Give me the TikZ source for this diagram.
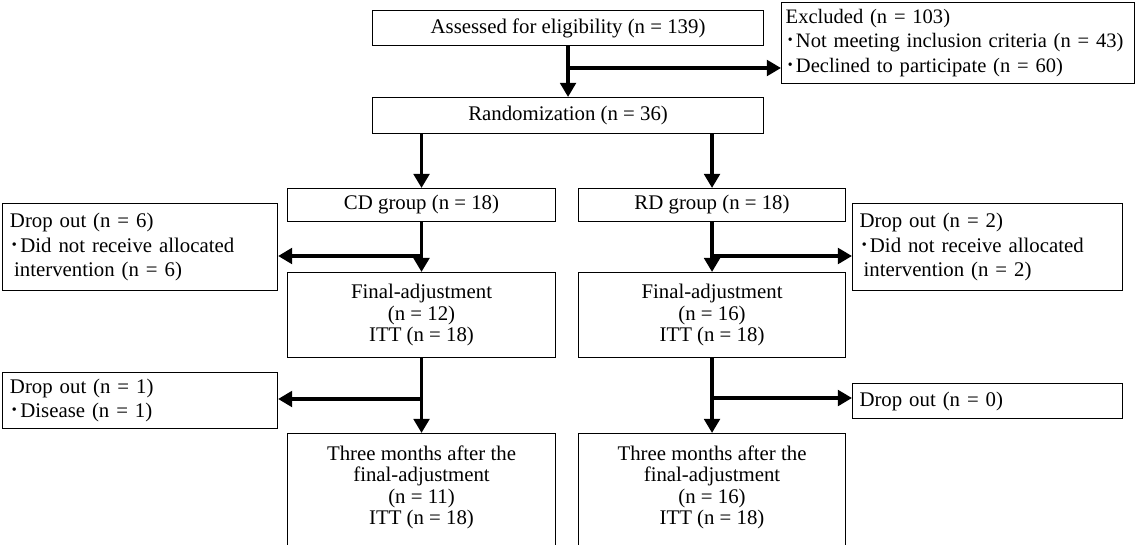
\documentclass[tikz,border=0pt]{standalone}
\usepackage{fontspec}
\setmainfont{Liberation Serif}
\newfontfamily\cjk{Noto Sans CJK JP}
\usetikzlibrary{arrows.meta}

\newcommand{\dotmark}{{\cjk ･}}

\begin{document}
\begin{tikzpicture}[
                x=0.025cm, y=-0.025cm,
                every node/.style={
                  draw,
                  line width=0.7pt,
                  inner sep=0pt,
                  anchor=north west,
                },
                box/.style={align=center, font=\fontsize{14.8}{15.4}\selectfont},
                note/.style={align=left, inner xsep=5pt, font=\fontsize{14.8}{17.4}\selectfont},
                >={Triangle[length=10pt,width=11pt]},
              ]
              \clip (0,0) rectangle (1137,545);
              % top part
              \node[box, minimum width=9.775cm, minimum height=0.875cm] at (372,10) (assess) {Assessed for eligibility (n = 139)} ;
              \node[note, minimum width=8.8cm, minimum height=2.025cm, text width=8.6cm, inner xsep=3pt,
                    font=\fontsize{14.6}{17.4}\selectfont] at (781,2) (excl)
                {Excluded (n = 103)\\\dotmark Not meeting inclusion criteria (n = 43)\\\dotmark Declined to participate (n = 60)} ;
              \node[box, minimum width=9.775cm, minimum height=0.9cm] at (372,97) (rand) {Randomization (n = 36)} ;
              % groups
              \node[box, minimum width=6.7cm, minimum height=0.825cm] at (287,188) (cd) {CD group (n = 18)} ;
              \node[box, minimum width=6.675cm, minimum height=0.825cm] at (578,188) (rd) {RD group (n = 18)} ;
              \node[note, minimum width=6.875cm, minimum height=2.175cm, text width=6.5cm] at (2,203) (dropcd)
                {Drop out (n = 6)\\\dotmark Did not receive allocated\\\hspace{0.2em}intervention (n = 6)} ;
              \node[note, minimum width=6.75cm, minimum height=2.175cm, text width=6.4cm] at (852,203) (droprd)
                {Drop out (n = 2)\\\dotmark Did not receive allocated\\\hspace{0.2em}intervention (n = 2)} ;
              \node[box, minimum width=6.7cm, minimum height=2.125cm] at (287,272) (fincd) {Final-adjustment\\(n = 12)\\ITT (n = 18)} ;
              \node[box, minimum width=6.675cm, minimum height=2.125cm] at (578,272) (finrd) {Final-adjustment\\(n = 16)\\ITT (n = 18)} ;
              % follow-up
              \node[note, minimum width=6.875cm, minimum height=1.4cm, text width=6.5cm] at (2,372) (dropcd2)
                {Drop out (n = 1)\\\dotmark Disease (n = 1)} ;
              \node[note, minimum width=6.75cm, minimum height=0.875cm, text width=6.4cm] at (852,383) (droprd2) {Drop out (n = 0)} ;
              \node[box, minimum width=6.7cm, minimum height=2.9cm, text depth=9pt] at (287,433) (thrcd)
                {Three months after the\\final-adjustment\\(n = 11)\\ITT (n = 18)} ;
              \node[box, minimum width=6.675cm, minimum height=2.9cm, text depth=9pt] at (578,433) (thrrd)
                {Three months after the\\final-adjustment\\(n = 16)\\ITT (n = 18)} ;
              \coordinate (b1) at (568,68) ;
              \coordinate (b2) at (421,256) ;
              \coordinate (b3) at (711,256) ;
              \coordinate (b4) at (421,399) ;
              \coordinate (b5) at (711,398) ;
              \begin{scope}[line width=2.6pt]
              \draw[->] (assess) -- (rand) ;
              \draw[->] (b1) -- (b1 -| excl.west) ;
              \draw[->] (rand.south -| cd) -- (cd) ;
              \draw[->] (rand.south -| rd) -- (rd) ;
              \draw[->] (cd) -- (fincd) ;
              \draw[->] (rd) -- (finrd) ;
              \draw[->] (b2) -- (b2 -| dropcd.east) ;
              \draw[->] (b3) -- (b3 -| droprd.west) ;
              \draw[->] (fincd) -- (thrcd) ;
              \draw[->] (finrd) -- (thrrd) ;
              \draw[->] (b4) -- (b4 -| dropcd2.east) ;
              \draw[->] (b5) -- (b5 -| droprd2.west) ;
              \end{scope}
              \end{tikzpicture}
\end{document}
